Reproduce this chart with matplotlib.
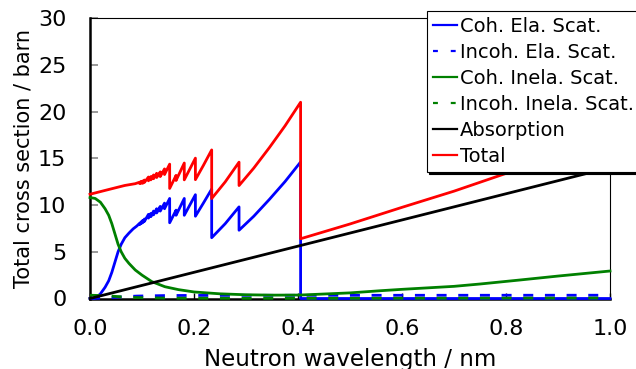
import matplotlib
matplotlib.use('Agg')
import matplotlib.pyplot as plt

plt.rcParams['font.family'] = ['DejaVu Sans']

# ---------------- data ----------------
lam_coh_ela = [0.000, 0.008, 0.013, 0.020, 0.029, 0.036, 0.042, 0.048, 0.054, 0.060, 0.067, 0.075, 0.083, 0.090,
               0.0955, 0.0955, 0.0983, 0.0983, 0.1013, 0.1013, 0.1047, 0.1047, 0.1124, 0.1124, 0.1170, 0.1170,
               0.1222, 0.1222, 0.1282, 0.1282, 0.1351, 0.1351, 0.1433, 0.1433, 0.1532, 0.1532, 0.1655, 0.1655,
               0.1813, 0.1813, 0.2027, 0.2027, 0.2180, 0.2340, 0.2340, 0.2600, 0.2866, 0.2866, 0.3150, 0.3450,
               0.3750, 0.4050, 0.4050, 1.000]
coh_ela = [0.0, 0.0, 0.15, 0.5, 1.2, 1.9, 2.8, 3.9, 5.0, 5.8, 6.5, 7.0, 7.45, 7.75,
           8.05, 7.9, 8.2, 8.0, 8.35, 8.1, 8.5, 8.25, 9.0, 8.6, 9.1, 8.75,
           9.35, 8.95, 9.6, 9.15, 9.85, 9.35, 10.2, 9.6, 10.7, 8.1, 9.45, 8.9,
           10.7, 8.9, 11.1, 8.8, 10.2, 11.7, 6.5, 8.0, 9.8, 7.3, 8.8, 10.6,
           12.5, 14.6, 0.0, 0.0]

lam_incoh_ela = [0.00, 0.03, 0.06, 0.09, 0.15, 0.30, 1.00]
incoh_ela = [0.00, 0.05, 0.17, 0.26, 0.32, 0.34, 0.35]

lam_coh_inela = [0.000, 0.010, 0.020, 0.029, 0.036, 0.042, 0.048, 0.054, 0.060, 0.067, 0.075, 0.087, 0.100,
                 0.119, 0.144, 0.170, 0.200, 0.250, 0.300, 0.350, 0.404, 0.500, 0.558, 0.600, 0.700, 0.750,
                 0.827, 0.900, 1.000]
coh_inela = [10.8, 10.7, 10.3, 9.6, 8.9, 8.0, 6.9, 5.8, 5.0, 4.3, 3.75, 3.05, 2.5,
             1.8, 1.26, 0.95, 0.7, 0.5, 0.4, 0.36, 0.37, 0.6, 0.83, 0.98, 1.3, 1.55,
             1.98, 2.4, 2.94]

lam_incoh_inela = [0.00, 0.03, 0.06, 0.09, 0.15, 0.30, 0.50, 1.00]
incoh_inela = [0.35, 0.30, 0.18, 0.10, 0.04, 0.02, 0.02, 0.05]

lam_absorption = [0.0, 1.0]
absorption = [0.0, 14.0]

lam_total = [0.000, 0.029, 0.054, 0.067, 0.087, 0.0955, 0.0955, 0.0983, 0.0983, 0.1013, 0.1013, 0.1047, 0.1047,
             0.1124, 0.1124, 0.1170, 0.1170, 0.1222, 0.1222, 0.1282, 0.1282, 0.1351, 0.1351, 0.1433, 0.1433,
             0.1532, 0.1532, 0.1655, 0.1655, 0.1813, 0.1813, 0.2027, 0.2027, 0.2180, 0.2340, 0.2340, 0.2600,
             0.2866, 0.2866, 0.3150, 0.3450, 0.3750, 0.4050, 0.4050, 0.500, 0.600, 0.700, 0.800, 0.900, 1.000]
total = [11.15, 11.56, 11.91, 12.09, 12.28, 12.44, 12.29, 12.53, 12.33, 12.57, 12.32, 12.67, 12.42,
         12.99, 12.59, 13.04, 12.69, 13.21, 12.81, 13.39, 12.94, 13.54, 13.04, 13.86, 13.26,
         14.37, 11.77, 13.17, 12.62, 14.49, 12.69, 15.01, 12.71, 14.23, 15.89, 10.69, 12.47,
         14.58, 12.08, 13.95, 16.14, 18.46, 20.99, 6.39, 7.97, 9.75, 11.48, 13.38, 15.39, 17.34]

series_labels = ['Coh. Ela. Scat.', 'Incoh. Ela. Scat.', 'Coh. Inela. Scat.',
                 'Incoh. Inela. Scat.', 'Absorption', 'Total']
xticks = [0.0, 0.2, 0.4, 0.6, 0.8, 1.0]
xtick_labels = ['0.0', '0.2', '0.4', '0.6', '0.8', '1.0']
yticks = [0, 5, 10, 15, 20, 25, 30]
ytick_labels = ['0', '5', '10', '15', '20', '25', '30']

# ---------------- figure ----------------
W, H = 636, 369
fig = plt.figure(figsize=(W / 100, H / 100), dpi=100)
ax = fig.add_axes([90 / W, 1 - 298.5 / H, 520 / W, 280.5 / H])

dash = (0, (3.6, 4.2))
lw = 2.0
kw = dict(lw=lw, clip_on=False, zorder=3)
ax.plot(lam_coh_ela, coh_ela, color='#0000ff', label=series_labels[0], **kw)
ax.plot(lam_incoh_ela, incoh_ela, color='#0000ff', ls=dash, label=series_labels[1], **kw)
ax.plot(lam_coh_inela, coh_inela, color='#008000', label=series_labels[2], **kw)
ax.plot(lam_incoh_inela, incoh_inela, color='#008000', ls=dash, label=series_labels[3], **kw)
ax.plot(lam_absorption, absorption, color='black', label=series_labels[4], **kw)
ax.plot(lam_total, total, color='#ff0000', label=series_labels[5], **kw)

ax.set_xlim(0, 1)
ax.set_ylim(0, 30)
ax.set_xticks(xticks)
ax.set_xticklabels(xtick_labels)
ax.set_yticks(yticks)
ax.set_yticklabels(ytick_labels)
ax.tick_params(axis='x', direction='in', length=4.5, width=1, color='black', pad=15, labelsize=16)
ax.tick_params(axis='y', direction='in', length=6, width=1.2, color='#888888', pad=17, labelsize=16)

for side in ('left', 'bottom'):
    ax.spines[side].set_linewidth(1.8)
for side in ('top', 'right'):
    ax.spines[side].set_linewidth(0.8)

ax.set_xlabel('Neutron wavelength / nm', fontsize=16.5)
ax.xaxis.set_label_coords(0.5, -0.1747)
ax.set_ylabel('Total cross section / barn', fontsize=15)
ax.yaxis.set_label_coords(-0.108, 0.5)

leg = ax.legend(loc='upper left', bbox_to_anchor=(427 / W, 1 - 11 / H), bbox_transform=fig.transFigure,
                borderaxespad=0, fontsize=14, frameon=True, fancybox=False, framealpha=1,
                edgecolor='black', borderpad=0.3, labelspacing=0.36, handlelength=1.25,
                handletextpad=0.15,
                shadow={'ox': 1.5, 'oy': -1.5, 'color': 'black', 'alpha': 1})
leg.get_frame().set_linewidth(0.8)
for i, line in enumerate(leg.get_lines()):
    line.set_linewidth(1.6)
    if i in (1, 3):
        line.set_dashes((2.2, 5.8))

fig.savefig('out.png', dpi=100)
